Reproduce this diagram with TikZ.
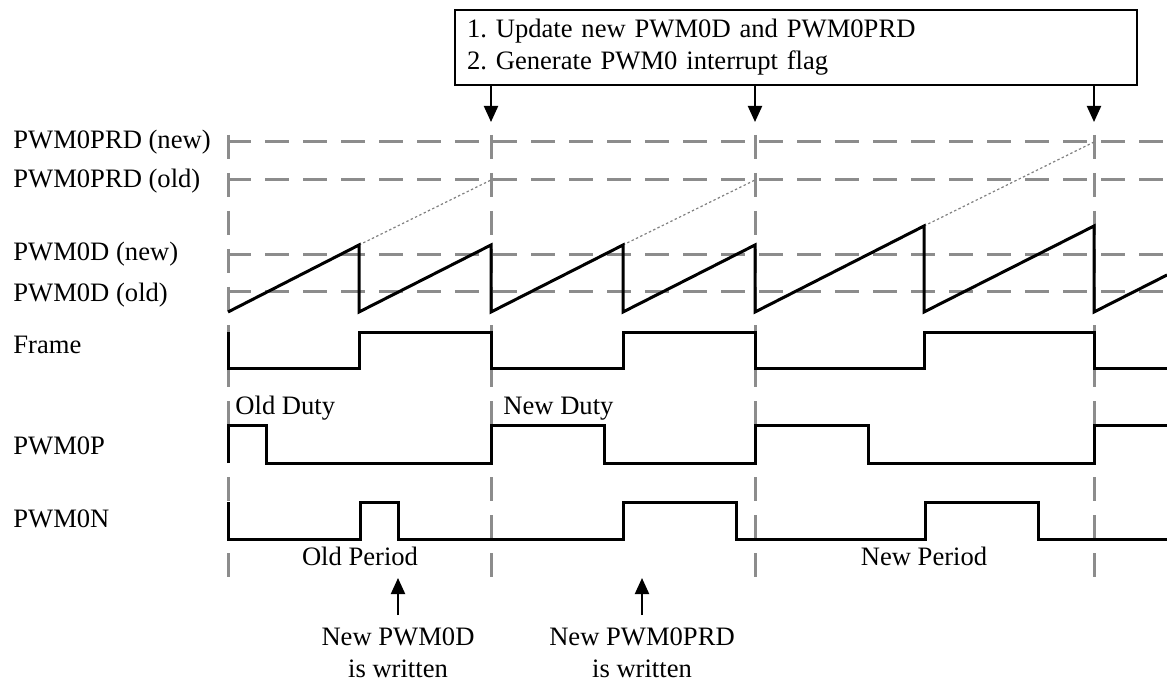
\documentclass[tikz,border=0pt]{standalone}
\usepackage{fontspec}
\setmainfont{Liberation Serif}
\frenchspacing
\usetikzlibrary{arrows.meta, positioning, calc}
\tikzset{
    grid/.style = {draw=black!45, line width=1.5pt, dash pattern=on 12pt off 7pt},
    signal/.style = {draw, line width=1.5pt},
    extend/.style = {draw=black!50, line width=0.6pt, dash pattern=on 1.2pt off 1.2pt},
    tag/.style = {anchor=west, inner sep=0pt, text height=0.7em, text depth=0.2em},
    updbox/.style = {draw, line width=1pt, anchor=north west, align=left, text width=329pt, inner xsep=6pt, minimum height=37.5pt},
    note/.style = {align=center, inner xsep=0pt, inner ysep=6pt},
    arrow/.style = {->, line width=1pt}
}

\begin{document}
\begin{tikzpicture}[x=0.5pt, y=-0.5pt, >={Triangle[length=8pt, width=7pt]},
    font=\fontsize{13.3pt}{16pt}\selectfont]
    \useasboundingbox (0,0) rectangle (1167,684);

    % Rejilla
    \foreach \x in {228,491,755,1094}
        \draw [grid] (\x,135) -- (\x,577);
    \foreach \y in {142,180,255,292}
        \draw [grid] (227,\y) -- (1167,\y);

    % Nombres de las senales
    \node [tag] (prdNew) at (13,144) {PWM0PRD (new)};
    \node [tag] (prdOld) at (13,183) {PWM0PRD (old)};
    \node [tag] (dNew) at (13,256) {PWM0D (new)};
    \node [tag] (dOld) at (13,296) {PWM0D (old)};
    \node [tag] (frame) at (13,348) {Frame};
    \node [tag] (pwmP) at (13,449) {PWM0P};
    \node [tag] (pwmN) at (13,522) {PWM0N};

    % Prolongacion del contador
    \draw [extend] (359,245) -- (491,180);
    \draw [extend] (623,245) -- (755,180);
    \draw [extend] (924,226) -- (1094,142);

    % Senales
    \draw [signal] (228,312) -- (359,245) -- (359,312) -- (491,245) -- (491,312)
        -- (623,245) -- (623,312) -- (755,245) -- (755,312) -- (924,226)
        -- (924,312) -- (1094,226) -- (1094,312) -- (1167,275);
    \draw [signal] (228,332) -- (228,368) -- (359,368) -- (359,332) -- (491,332)
        -- (491,368) -- (623,368) -- (623,332) -- (755,332) -- (755,368)
        -- (924,368) -- (924,332) -- (1094,332) -- (1094,368) -- (1167,368);
    \draw [signal] (228,463) -- (228,425) -- (266,425) -- (266,463) -- (491,463)
        -- (491,425) -- (604,425) -- (604,463) -- (755,463) -- (755,425)
        -- (868,425) -- (868,463) -- (1094,463) -- (1094,425) -- (1167,425);
    \draw [signal] (228,502) -- (228,539) -- (360,539) -- (360,502) -- (398,502)
        -- (398,539) -- (623,539) -- (623,502) -- (736,502) -- (736,539)
        -- (925,539) -- (925,502) -- (1038,502) -- (1038,539) -- (1167,539);

    % Textos sobre las senales
    \node [tag] (oldDuty) at (235,409) {Old Duty};
    \node [tag] (newDuty) at (503,409) {New Duty};
    \node [tag, anchor=center] (oldPeriod) at (360,560) {Old Period};
    \node [tag, anchor=center] (newPeriod) at (924,560) {New Period};

    % Actualizacion al final del periodo
    \node [updbox] (update) at (454,9) {1. Update new PWM0D and PWM0PRD\\2. Generate PWM0 interrupt flag};
    \foreach \x [count=\i] in {491,755,1094} {
        \coordinate (upd\i) at (\x,122);
        \draw [arrow] (update.south -| upd\i) -- (upd\i);
    }

    % Escritura de registros
    \coordinate (wrD) at (398,578);
    \coordinate (wrPRD) at (642,578);
    \node [note, below=18.5pt of wrD] (newD) {New PWM0D\\is written};
    \node [note, below=18.5pt of wrPRD] (newPRD) {New PWM0PRD\\is written};
    \draw [arrow] (newD) -- (wrD);
    \draw [arrow] (newPRD) -- (wrPRD);
\end{tikzpicture}
\end{document}
